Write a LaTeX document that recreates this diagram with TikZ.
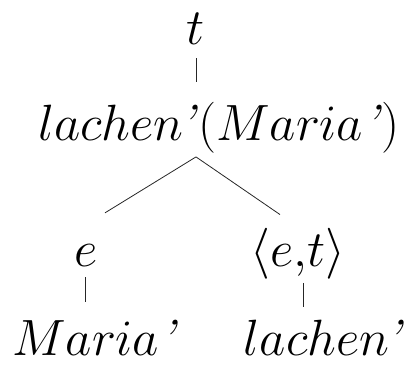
\RequirePackage{fix-cm}
\documentclass[tikz,border=0pt]{standalone}
\begin{document}
\begin{tikzpicture}[x=1pt, y=-1pt,
    every node/.style={inner sep=0pt, anchor=base, font=\fontsize{51}{60}\selectfont},
    branch/.style={line width=0.8pt, black!85}]
    \useasboundingbox (0,0) rectangle (408,368);
    
    \node (t) at (196,44) {$t$};
    \node (top) at (219,140) {$lachen$\kern-4pt\textit{'}$(Maria$\textit{'}$)$};
    \node (e) at (86,266) {$e$};
    \node (et) at (298,266) {$\langle e{,}t\rangle$};
    \node (maria) at (95,355) {$Maria$\textit{'}};
    \node (lachen) at (324,355) {$lachen$\kern-4pt\textit{'}};
    
    \draw[branch] ([yshift=-14pt]t.south) -- ([xshift=-23pt,yshift=20pt]top.north);
    \draw[branch] ([xshift=-23pt,yshift=-4pt]top.south) -- ([xshift=19pt,yshift=31pt]e.north);
    \draw[branch] ([xshift=-23pt,yshift=-4pt]top.south) -- ([xshift=-18pt,yshift=13pt]et.north);
    
    \draw[branch] ([xshift=-1pt,yshift=-11pt]e.south) -- ([xshift=-10pt,yshift=17pt]maria.north);
    \draw[branch] ([xshift=5pt,yshift=-4pt]et.south) -- ([xshift=-21pt,yshift=12pt]lachen.north);
\end{tikzpicture}
\end{document}
